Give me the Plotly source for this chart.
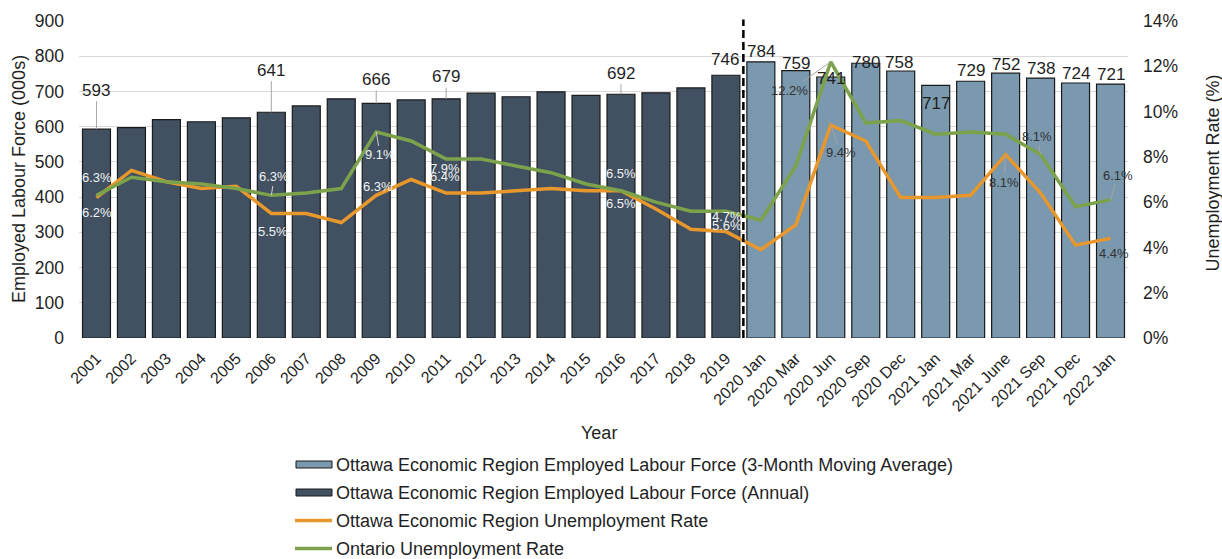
import plotly.graph_objects as go

# ---------------- data ----------------
categories = ['2001', '2002', '2003', '2004', '2005', '2006', '2007', '2008', '2009', '2010',
              '2011', '2012', '2013', '2014', '2015', '2016', '2017', '2018', '2019',
              '2020 Jan', '2020 Mar', '2020 Jun', '2020 Sep', '2020 Dec', '2021 Jan',
              '2021 Mar', '2021 June', '2021 Sep', '2021 Dec', '2022 Jan']
annual_cats = categories[:19]
monthly_cats = categories[19:]
annual_labour = [593, 597, 620, 614, 625, 641, 659, 679, 666, 676, 679, 695, 685, 699, 689, 692, 696, 710, 746]
monthly_labour = [784, 759, 741, 780, 758, 717, 729, 752, 738, 724, 721]
ottawa_rate = [6.2, 7.4, 6.9, 6.6, 6.7, 5.5, 5.5, 5.1, 6.3, 7.0, 6.4, 6.4, 6.5, 6.6, 6.5, 6.5, 5.7, 4.8, 4.7,
               3.9, 5.0, 9.4, 8.7, 6.2, 6.2, 6.3, 8.1, 6.4, 4.1, 4.4]
ontario_rate = [6.3, 7.1, 6.9, 6.8, 6.6, 6.3, 6.4, 6.6, 9.1, 8.7, 7.9, 7.9, 7.6, 7.3, 6.8, 6.5, 6.0, 5.6, 5.6,
                5.2, 7.6, 12.2, 9.5, 9.6, 9.0, 9.1, 9.0, 8.1, 5.8, 6.1]
left_ticks = [0, 100, 200, 300, 400, 500, 600, 700, 800, 900]
right_ticks = [0, 2, 4, 6, 8, 10, 12, 14]

names = ['Ottawa Economic Region Employed Labour Force (3-Month Moving Average)',
         'Ottawa Economic Region Employed Labour Force (Annual)',
         'Ottawa Economic Region Unemployment Rate',
         'Ontario Unemployment Rate']

# ---------------- styles / layout constants ----------------
FONT = 'Arial, Liberation Sans, sans-serif'
C_ANNUAL = '#415162'
C_MONTHLY = '#7a98ae'
C_ORANGE = '#e8972d'
C_GREEN = '#7ca34b'
TXT = '#1f1f1f'
W, H = 1222, 559
L, R, T, B = 79, 94, 21, 221
PW, PH = W - L - R, H - T - B


def px_x(px):
    return (px - L) / PW


def px_y(py):
    return (T + PH - py) / PH


fig = go.Figure()
fig.add_trace(go.Bar(x=monthly_cats, y=monthly_labour, name=names[0], marker_color=C_MONTHLY,
                     marker_line=dict(color='#1a1a1a', width=1.2), showlegend=False))
fig.add_trace(go.Bar(x=annual_cats, y=annual_labour, name=names[1], marker_color=C_ANNUAL,
                     marker_line=dict(color='#1a1a1a', width=1.2), showlegend=False))
fig.add_trace(go.Scatter(x=categories, y=ottawa_rate, name=names[2], yaxis='y2', mode='lines',
                         line=dict(color=C_ORANGE, width=3.5), showlegend=False))
fig.add_trace(go.Scatter(x=categories, y=ontario_rate, name=names[3], yaxis='y2', mode='lines',
                         line=dict(color=C_GREEN, width=3.5), showlegend=False))

annotations = []

# bar value labels: (category index, dx, dy, leader)
bar_label_pos = [(0, 0, -39, True), (5, 0, -42, True), (8, 0, -24, True), (10, 0, -22, True),
                 (15, 0, -21, True), (18, -1, -15.5, False),
                 (19, 0, -10, False), (20, 0, -7, False), (21, 0, 1, False), (22, 0, -1, False),
                 (23, -2, -8.7, False), (24, 0, 18.5, False), (25, 0, -10.6, False),
                 (26, 0, -9, False), (27, 0, -10, False), (28, 0, -9.4, False), (29, 0, -10, False)]
all_labour = annual_labour + monthly_labour
for i, dx, dy, leader in bar_label_pos:
    a = dict(x=i, y=all_labour[i], xref='x', yref='y', text=str(all_labour[i]),
             font=dict(family=FONT, size=17, color=TXT))
    if leader:
        a.update(showarrow=True, ax=dx, ay=dy, arrowhead=0, arrowwidth=1, arrowcolor='#a6a6a6', standoff=0)
    else:
        a.update(showarrow=False, xshift=dx, yshift=-dy)
    annotations.append(a)

# rate labels: (series, index, dx, dy, leader)
rate_label_pos = [('on', 0, 1, -18, False), ('ot', 0, 1, 15, False),
                  ('on', 5, 3, -18.4, True), ('ot', 5, 1.5, 18, False),
                  ('on', 8, 4, 23, True), ('ot', 8, 2, -9, False),
                  ('on', 10, -1, 9.5, False), ('ot', 10, -1, -16.6, False),
                  ('on', 15, 0, -17, False), ('ot', 15, 0, 13, False),
                  ('on', 18, 1, 14.4, False), ('ot', 18, 1, -14.6, False),
                  ('on', 21, -41, 29, True), ('ot', 21, 10, 27.6, True),
                  ('ot', 26, -1.5, 28, True), ('on', 27, -3.5, -18.5, True),
                  ('on', 29, 7, -24, True), ('ot', 29, 3.5, 15.4, False)]
for s, i, dx, dy, leader in rate_label_pos:
    v = ontario_rate[i] if s == 'on' else ottawa_rate[i]
    col = '#f2f2f2' if i < 19 else '#333333'
    lcol = '#d0d0d0' if i < 19 else '#a6a6a6'
    a = dict(x=i, y=v, xref='x', yref='y2', text=f'{v:.1f}%',
             font=dict(family=FONT, size=13, color=col))
    if leader:
        a.update(showarrow=True, ax=dx, ay=dy, arrowhead=0, arrowwidth=1, arrowcolor=lcol, standoff=0)
    else:
        a.update(showarrow=False, xshift=dx, yshift=-dy)
    annotations.append(a)

# axis titles
annotations.append(dict(text='Employed Labour Force (000s)', xref='paper', yref='paper',
                        x=px_x(18.5), y=0.5, textangle=-90, showarrow=False,
                        xanchor='center', yanchor='middle',
                        font=dict(family=FONT, size=18, color=TXT)))
annotations.append(dict(text='Unemployment Rate (%)', xref='paper', yref='paper',
                        x=px_x(1212), y=px_y(173.5), textangle=-90, showarrow=False,
                        xanchor='center', yanchor='middle',
                        font=dict(family=FONT, size=18, color=TXT)))
annotations.append(dict(text='Year', xref='paper', yref='paper',
                        x=px_x(598.5), y=px_y(433), showarrow=False,
                        xanchor='center', yanchor='middle',
                        font=dict(family=FONT, size=18, color=TXT)))

shapes = []
# divider between annual and monthly data
shapes.append(dict(type='line', xref='x', yref='paper', x0=18.5, x1=18.5, y0=0, y1=1.005,
                   line=dict(color='#000000', width=2.5, dash='8px,4px')))

# custom legend
row_y = [464.5, 492.5, 520.5, 548.5]
kinds = [('bar', C_MONTHLY), ('bar', C_ANNUAL), ('line', C_ORANGE), ('line', C_GREEN)]
for (kind, col), name, py in zip(kinds, names, row_y):
    if kind == 'bar':
        shapes.append(dict(type='rect', xref='paper', yref='paper', x0=px_x(296), x1=px_x(332),
                           y0=px_y(py + 3.5), y1=px_y(py - 3.5), fillcolor=col,
                           line=dict(color='#1a1a1a', width=1)))
    else:
        shapes.append(dict(type='line', xref='paper', yref='paper', x0=px_x(295), x1=px_x(332),
                           y0=px_y(py), y1=px_y(py), line=dict(color=col, width=3.5)))
    annotations.append(dict(text=name, xref='paper', yref='paper', x=px_x(334), y=px_y(py),
                            xanchor='left', yanchor='middle', showarrow=False,
                            font=dict(family=FONT, size=18, color=TXT)))

fig.update_layout(
    width=W, height=H, autosize=False,
    margin=dict(l=L, r=R, t=T, b=B, pad=0),
    paper_bgcolor='white', plot_bgcolor='white',
    barmode='overlay', bargap=0.2,
    font=dict(family=FONT, size=17, color=TXT),
    xaxis=dict(type='category', categoryorder='array', categoryarray=categories,
               range=[-0.5, len(categories) - 0.5], autorange=False,
               tickangle=-45, tickfont=dict(size=16), showgrid=False, showline=False,
               ticks='', zeroline=False, ticklabelstandoff=7),
    yaxis=dict(range=[0, 900], autorange=False, tickvals=left_ticks, showgrid=True, gridcolor='#d9d9d9',
               gridwidth=1, zeroline=False, showline=False, ticks='', tickfont=dict(size=17.5),
               ticklabelstandoff=14),
    yaxis2=dict(range=[0, 14], autorange=False, tickvals=right_ticks,
                ticktext=[f'{t}%' for t in right_ticks],
                overlaying='y', side='right', showgrid=False, zeroline=False, showline=False,
                ticks='', tickfont=dict(size=17.5), ticklabelstandoff=14),
    annotations=annotations, shapes=shapes, showlegend=False,
)

fig.write_html('out.html', config={'displayModeBar': False},
               post_script="document.body.style.margin='0';")
